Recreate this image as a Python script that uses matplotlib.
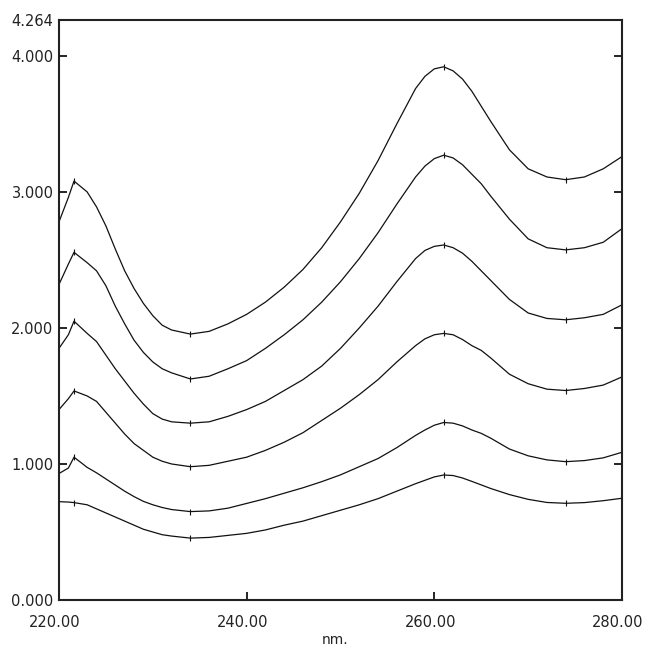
import matplotlib
matplotlib.use("Agg")
import matplotlib.pyplot as plt
import matplotlib.transforms as mtransforms

plt.rcParams['font.family'] = ['DejaVu Sans']

wavelength = [220, 221, 221.6, 223, 224, 225, 226, 227, 228, 229, 230, 231, 232, 234, 236, 238,
              240, 242, 244, 246, 248, 250, 252, 254, 256, 258, 259, 260, 261, 262, 263, 264,
              265, 266, 268, 270, 272, 274, 276, 278, 280]

curve1 = [2.78, 2.96, 3.08, 3.00, 2.89, 2.75, 2.58, 2.42, 2.29, 2.18, 2.09, 2.02, 1.985, 1.955, 1.975, 2.03,
          2.10, 2.19, 2.30, 2.43, 2.59, 2.78, 2.99, 3.23, 3.50, 3.76, 3.85, 3.905, 3.92, 3.89, 3.83, 3.74,
          3.63, 3.52, 3.31, 3.17, 3.11, 3.09, 3.11, 3.17, 3.26]
curve2 = [2.32, 2.47, 2.556, 2.48, 2.42, 2.31, 2.16, 2.03, 1.91, 1.82, 1.75, 1.70, 1.67, 1.625, 1.645, 1.70,
          1.76, 1.85, 1.95, 2.06, 2.19, 2.34, 2.51, 2.70, 2.91, 3.11, 3.19, 3.245, 3.27, 3.25, 3.20, 3.13,
          3.06, 2.97, 2.80, 2.655, 2.59, 2.574, 2.59, 2.63, 2.73]
curve3 = [1.85, 1.95, 2.05, 1.96, 1.90, 1.80, 1.70, 1.61, 1.52, 1.44, 1.37, 1.33, 1.31, 1.30, 1.31, 1.35,
          1.40, 1.46, 1.54, 1.62, 1.72, 1.85, 2.00, 2.16, 2.34, 2.51, 2.57, 2.60, 2.61, 2.59, 2.55, 2.49,
          2.42, 2.35, 2.21, 2.11, 2.07, 2.06, 2.075, 2.10, 2.17]
curve4 = [1.40, 1.48, 1.537, 1.50, 1.46, 1.38, 1.30, 1.22, 1.15, 1.10, 1.05, 1.02, 1.00, 0.98, 0.99, 1.02,
          1.05, 1.10, 1.16, 1.23, 1.32, 1.41, 1.51, 1.62, 1.75, 1.87, 1.92, 1.95, 1.96, 1.95, 1.915, 1.87,
          1.835, 1.78, 1.66, 1.59, 1.55, 1.54, 1.555, 1.58, 1.64]
curve5 = [0.93, 0.97, 1.05, 0.975, 0.935, 0.89, 0.845, 0.80, 0.76, 0.725, 0.70, 0.68, 0.665, 0.65, 0.655, 0.675,
          0.71, 0.745, 0.785, 0.825, 0.87, 0.92, 0.98, 1.04, 1.12, 1.21, 1.25, 1.285, 1.305, 1.30, 1.28, 1.25,
          1.225, 1.19, 1.11, 1.06, 1.03, 1.017, 1.025, 1.045, 1.086]
curve6 = [0.723, 0.72, 0.716, 0.70, 0.67, 0.64, 0.61, 0.58, 0.55, 0.52, 0.50, 0.48, 0.47, 0.455, 0.46, 0.475,
          0.49, 0.515, 0.55, 0.58, 0.62, 0.66, 0.70, 0.745, 0.80, 0.855, 0.88, 0.905, 0.919, 0.915, 0.897, 0.872,
          0.846, 0.82, 0.775, 0.74, 0.717, 0.711, 0.716, 0.73, 0.748]
curves = [curve1, curve2, curve3, curve4, curve5, curve6]

peak_valley_nm = [221.6, 234, 261, 274]

y_ticks = [0.0, 1.0, 2.0, 3.0, 4.0, 4.264]
y_tick_labels = ["0.000", "1.000", "2.000", "3.000", "4.000", "4.264"]
x_ticks = [220, 240, 260, 280]
x_tick_labels = ["220.00", "240.00", "260.00", "280.00"]

fig = plt.figure(figsize=(6.45, 6.46), dpi=100)
ax = fig.add_axes([59/645, 46/646, (622-59)/645, (600-20)/646])

marks = [wavelength.index(v) for v in peak_valley_nm]
for c in curves:
    ax.plot(wavelength, c, color='#111111', lw=0.9, marker='|', markersize=4,
            markevery=marks, markeredgewidth=0.8)

ax.set_xlim(220, 280)
ax.set_ylim(0, 4.264)
ax.set_yticks(y_ticks)
ax.set_yticklabels(y_tick_labels, fontsize=10.5, color='#222222')
ax.set_xticks(x_ticks)
ax.set_xticklabels(x_tick_labels, fontsize=10.5, color='#222222')
ax.tick_params(axis='y', direction='in', length=6, width=1.2, right=True, pad=4)
ax.tick_params(axis='x', direction='in', length=6, width=1.2, pad=11)
ax.yaxis.get_major_ticks()[-1].tick1line.set_visible(False)
ax.yaxis.get_major_ticks()[-1].tick2line.set_visible(False)
ax.yaxis.get_major_ticks()[0].tick2line.set_visible(False)
offset = mtransforms.ScaledTranslation(-4/100, 0, fig.dpi_scale_trans)
for lab in ax.get_xticklabels():
    lab.set_transform(lab.get_transform() + offset)

for s in ax.spines.values():
    s.set_linewidth(1.5)
    s.set_color('#222222')

fig.text(335/645, 2/646, "nm.", ha='center', va='baseline', fontsize=10, color='#222222')

fig.savefig("out.png", dpi=100)
